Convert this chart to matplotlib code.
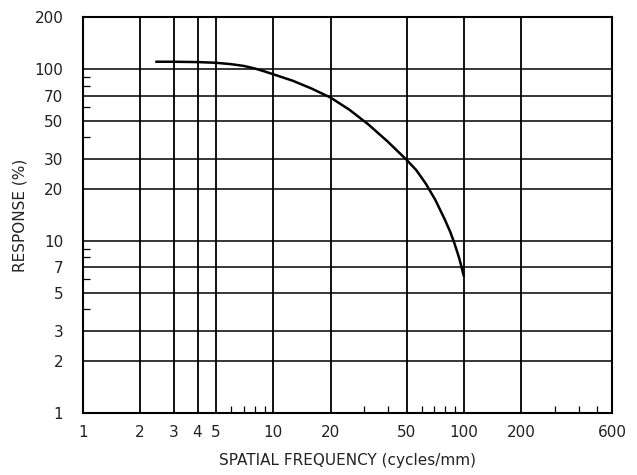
import matplotlib
matplotlib.use("Agg")
import matplotlib.pyplot as plt
from matplotlib.ticker import FixedLocator, NullFormatter

# 曲線データ
freq = [2.4, 3, 4, 5, 6, 7, 8, 9, 10, 12.6, 15.8, 20, 25.1, 31.6, 39.8, 50,
        56.2, 63.1, 70.8, 79.4, 85, 89.1, 92, 94.4, 97, 100]
response = [110, 110, 109.5, 108.5, 106.5, 104, 100.5, 96.6, 93, 85.4, 77, 68, 57.8, 47.4, 37.8, 29.6,
            25.8, 21.5, 17.3, 13.3, 11.2, 9.7, 8.7, 7.95, 7.1, 6.2]

# 目盛り
x_major = [1, 2, 3, 4, 5, 10, 20, 50, 100, 200, 600]
x_grid = [2, 3, 4, 5, 10, 20, 50, 100, 200]
x_minor = [6, 7, 8, 9, 30, 40, 60, 70, 80, 90, 300, 400, 500]
y_major = [1, 2, 3, 5, 7, 10, 20, 30, 50, 70, 100, 200]
y_grid = [2, 3, 5, 7, 10, 20, 30, 50, 70, 100]
y_minor = [4, 6, 8, 9, 40, 60, 80, 90]

plt.rcParams['font.family'] = ['DejaVu Sans']

fig = plt.figure(figsize=(6.37, 4.75), dpi=100)
ax = fig.add_axes([0.130, 0.131, 0.831, 0.833])

ax.set_xscale('log')
ax.set_yscale('log')
ax.set_xlim(1, 600)
ax.set_ylim(1, 200)

# グリッド
for gx in x_grid:
    ax.axvline(gx, color='black', lw=1.3, zorder=1)
for gy in y_grid:
    ax.axhline(gy, color='black', lw=1.1, zorder=1)

ax.plot(freq, response, color='black', lw=1.8, zorder=3,
        solid_joinstyle='round', solid_capstyle='butt')

ax.xaxis.set_major_locator(FixedLocator(x_major))
ax.set_xticklabels([str(v) for v in x_major])
ax.xaxis.set_minor_locator(FixedLocator(x_minor))
ax.xaxis.set_minor_formatter(NullFormatter())
ax.yaxis.set_major_locator(FixedLocator(y_major))
ax.set_yticklabels([str(v) for v in y_major])
ax.yaxis.set_minor_locator(FixedLocator(y_minor))
ax.yaxis.set_minor_formatter(NullFormatter())

ax.tick_params(which='major', length=0, labelsize=11, colors='#222222')
ax.tick_params(axis='x', which='major', pad=9)
ax.tick_params(axis='y', which='major', pad=14)
ax.tick_params(which='minor', direction='in', length=5, width=0.9, color='black')

for sp in ax.spines.values():
    sp.set_linewidth(1.5)
    sp.set_color('black')

ax.set_xlabel('SPATIAL FREQUENCY (cycles/mm)', fontsize=11, labelpad=9, color='#222222')
ax.set_ylabel('RESPONSE (%)', fontsize=11, labelpad=5, color='#222222')

fig.savefig('out.png', dpi=100)
